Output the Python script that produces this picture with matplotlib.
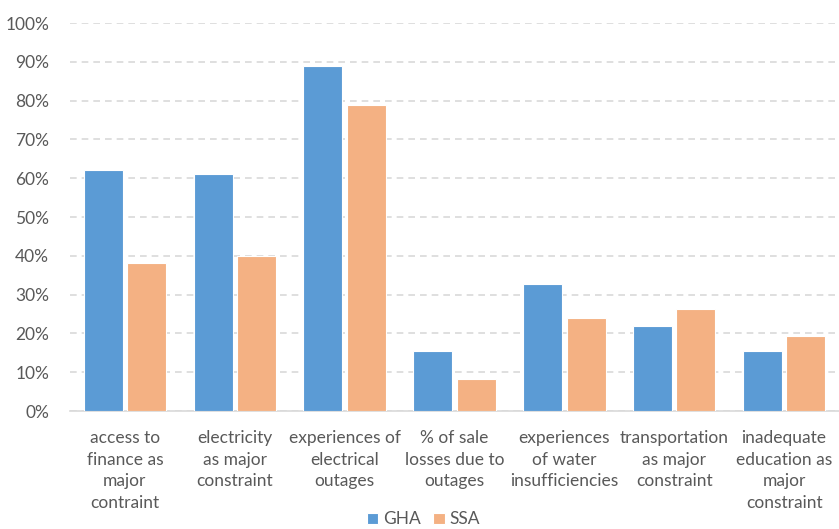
import matplotlib
matplotlib.use("Agg")
import matplotlib.pyplot as plt
import numpy as np
from matplotlib import font_manager

# Indicator categories and shares (percent) for Ghana vs Sub-Saharan Africa
categories = [
    "access to\nfinance as\nmajor\ncontraint",
    "electricity\nas major\nconstraint",
    "experiences of\nelectrical\noutages",
    "% of sale\nlosses due to\noutages",
    "experiences\nof water\ninsufficiencies",
    "transportation\nas major\nconstraint",
    "inadequate\neducation as\nmajor\nconstraint",
]
gha = [62.1, 61.0, 88.9, 15.6, 32.7, 22.0, 15.4]
ssa = [38.1, 40.0, 78.8, 8.2, 24.0, 26.3, 19.3]
yticks = list(range(0, 101, 10))

names = {f.name for f in font_manager.fontManager.ttflist}
family = "Liberation Sans Narrow" if "Liberation Sans Narrow" in names else "Lato"
plt.rcParams["font.family"] = [family, "DejaVu Sans"]

text_color = "#595959"
fig = plt.figure(figsize=(8.39, 5.29), dpi=100)
ax = fig.add_axes([0.0834, 0.223, 0.9166, 0.7335])

x = np.arange(len(categories))
w = 0.355
gap = 0.04
ax.bar(x - (w + gap) / 2, gha, width=w, color="#5B9BD5", edgecolor="white",
       linewidth=0.8, label="GHA", zorder=3)
ax.bar(x + (w + gap) / 2, ssa, width=w, color="#F4B183", edgecolor="white",
       linewidth=0.8, label="SSA", zorder=3)

ax.set_xlim(-0.5, len(categories) - 0.5)
ax.set_ylim(0, 100)
ax.set_yticks(yticks)
ax.set_yticklabels([f"{t}%" for t in yticks])
ax.yaxis.grid(True, color="#D9D9D9", linestyle=(0, (4, 3)), linewidth=1.2, zorder=0)
ax.set_axisbelow(True)

for side in ["top", "right", "left"]:
    ax.spines[side].set_visible(False)
ax.spines["bottom"].set_color("#D9D9D9")
ax.spines["bottom"].set_linewidth(1.2)

ax.set_xticks(x)
ax.set_xticklabels(categories, linespacing=1.42)
ax.tick_params(axis="both", length=0, labelsize=12.5, colors=text_color)
ax.tick_params(axis="x", pad=14)
ax.tick_params(axis="y", pad=15)

leg = fig.legend(loc="center", bbox_to_anchor=(0.505, 0.018), ncol=2, frameon=False,
                 fontsize=12.5, handlelength=0.65, handleheight=0.65, columnspacing=0.7,
                 handletextpad=0.3)
for t in leg.get_texts():
    t.set_color(text_color)

fig.savefig("out.png", dpi=100)
